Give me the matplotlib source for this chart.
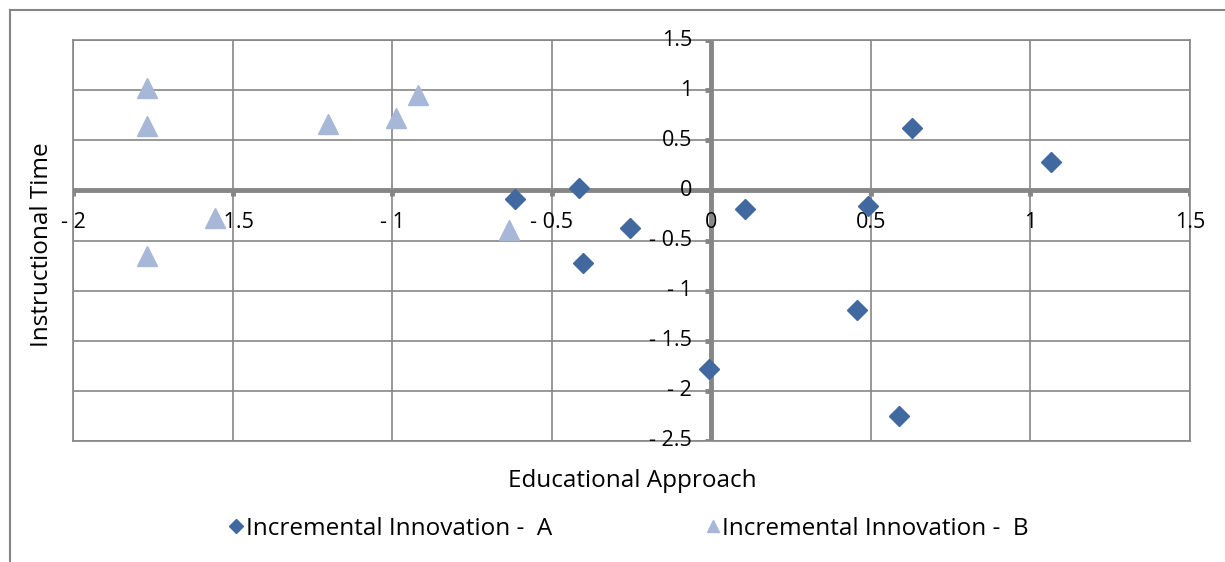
import numpy as np
import matplotlib.pyplot as plt
from matplotlib.lines import Line2D

# data
a_x = [0.63, 1.066, -0.414, -0.614, 0.107, 0.492, -0.254, -0.401, 0.458, -0.006, 0.589]
a_y = [0.62, 0.28, 0.02, -0.09, -0.19, -0.16, -0.38, -0.72, -1.19, -1.78, -2.25]
b_x = [-1.768, -1.768, -1.20, -0.987, -0.918, -1.555, -0.633, -1.768]
b_y = [1.02, 0.64, 0.66, 0.72, 0.95, -0.28, -0.40, -0.65]

x_ticks = [-2, -1.5, -1, -0.5, 0, 0.5, 1, 1.5]
x_labels = ['- 2', '- 1.5', '- 1', '- 0.5', '0', '0.5', '1', '1.5']
y_ticks = [1.5, 1, 0.5, 0, -0.5, -1, -1.5, -2, -2.5]
y_labels = ['1.5', '1', '0.5', '0', '- 0.5', '- 1', '- 1.5', '- 2', '- 2.5']

label_a = 'Incremental Innovation -  A'
label_b = 'Incremental Innovation -  B'

col_a = '#41699f'
col_b = '#a7b7d7'
grey = '#868686'

plt.rcParams['font.family'] = ['Open Sans', 'DejaVu Sans']

W, H = 1225, 562
fig = plt.figure(figsize=(12.25, 5.62), dpi=100)

# chart border (top and left edges visible)
fig.add_artist(Line2D([10 / W, 1.0], [1 - 10 / H, 1 - 10 / H], color=grey, lw=1.5))
fig.add_artist(Line2D([10 / W, 10 / W], [1 - 10 / H, 0], color=grey, lw=1.5))

ax = fig.add_axes([73 / W, 1 - 441 / H, (1190 - 73) / W, (441 - 40) / H])
ax.set_xlim(-2, 1.5)
ax.set_ylim(-2.5, 1.5)
for s in ax.spines.values():
    s.set_color(grey)
    s.set_linewidth(1.2)
ax.set_xticks([])
ax.set_yticks([])

for t in x_ticks:
    ax.axvline(t, color=grey, lw=1.2, zorder=1)
for t in y_ticks:
    ax.axhline(t, color=grey, lw=1.2, zorder=1)

# axes crossing at zero
ax.axhline(0, color=grey, lw=3.5, zorder=2)
ax.axvline(0, color=grey, lw=3.5, zorder=2)
tx = 6 / 319.
ty = 6 / 100.25
for t in x_ticks:
    ax.plot([t, t], [0, -ty], color=grey, lw=3.5, solid_capstyle='butt', zorder=2)
for t in y_ticks:
    ax.plot([0, -tx], [t, t], color=grey, lw=3.5, solid_capstyle='butt', zorder=2)

for t, l in zip(x_ticks, x_labels):
    ax.text(t, -0.32, l, ha='center', va='center', fontsize=15.5, zorder=3)
for t, l in zip(y_ticks, y_labels):
    ax.text(-0.06, t, l, ha='right', va='center', fontsize=15.5, zorder=3)

ax.plot(a_x, a_y, 'D', color=col_a, markersize=10, zorder=4, label=label_a)
ax.plot(b_x, b_y, '^', color=col_b, markersize=15, zorder=4, label=label_b)

fig.text(632 / W, 1 - 481 / H, 'Educational Approach', ha='center', va='center', fontsize=17.5)
fig.text(42 / W, 1 - 245 / H, 'Instructional Time', ha='center', va='center',
         rotation=90, fontsize=17.5)

handles = [Line2D([], [], ls='', marker='D', color=col_a, markersize=7),
           Line2D([], [], ls='', marker='^', color=col_b, markersize=9)]
fig.legend(handles, [label_a, label_b], loc='center', bbox_to_anchor=(629 / W, 1 - 529 / H),
           ncol=2, frameon=False, fontsize=17.5, handlelength=0.6, handletextpad=0.1,
           columnspacing=6.3)

fig.savefig('out.png', dpi=100)
